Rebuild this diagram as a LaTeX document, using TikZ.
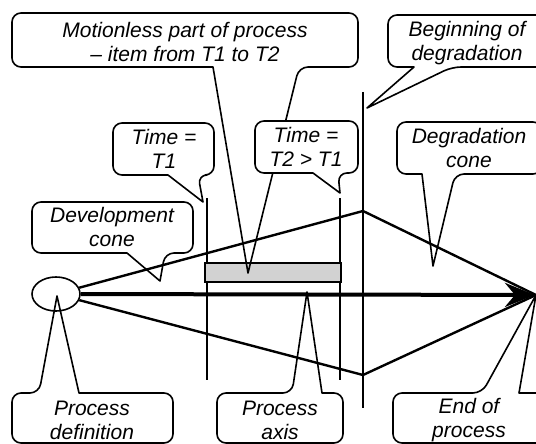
\documentclass[tikz,border=0pt]{standalone}
\usepackage{fontspec}
\setmainfont{Liberation Sans}
\usetikzlibrary{shapes.geometric,arrows.meta}
\newcommand\cobot[8][]{\draw[co,#1] (#6,#5) [rounded corners=9pt] -| (#2,#3) -| (#4,#5) -- (#7,#5) [sharp corners] -- (#8) -- cycle;}
\newcommand\cotop[7]{\draw[co] (#6,#2) [rounded corners=9pt] -| (#3,#4) -| (#1,#2) -- (#5,#2) [sharp corners] -- (#7) -- cycle;}
\begin{document}
\begin{tikzpicture}[x=1pt,y=-1pt,
  lbl/.style={font=\fontsize{21}{24}\selectfont\itshape, align=center, inner sep=0pt},
  co/.style={line width=1.6pt, line join=round},
  cone/.style={line width=2.4pt},
  vline/.style={line width=1.8pt},
  axis/.style={line width=4pt, -{Stealth[length=30pt,width=24pt,inset=10pt]}},
  bar/.style={line width=2.5pt, fill=gray!35},
  pdef/.style={draw, ellipse, line width=1.6pt, minimum width=48pt, minimum height=34pt, inner sep=0pt}
 ]
\useasboundingbox (0,0) rectangle (536,444);
\clip (0,0) rectangle (536,444);
% key points
\coordinate (up) at (363,211);
\coordinate (lo) at (363,375);
\coordinate (endp) at (536,295);
\coordinate (axend) at (535,295);
\coordinate (t1a) at (207,198); \coordinate (t1b) at (207,380);
\coordinate (t2a) at (340,198); \coordinate (t2b) at (340,380);
\coordinate (dga) at (363,92);  \coordinate (dgb) at (363,408);
% process definition ellipse
\node[pdef] (pd) at (56,294) {};
% cones
\draw[cone] (pd) -- (up) -- (endp);
\draw[cone] (pd) -- (lo) -- (endp);
% time lines
\draw[vline] (t1a) -- (t1b);
\draw[vline] (t2a) -- (t2b);
\draw[vline] (dga) -- (dgb);
% motionless bar
\draw[bar] (205,263) rectangle (341,282);
% axis
\draw[axis] (pd.east) -- (axend);
% callout tips
\coordinate (tMot) at (248,273);
\coordinate (tBeg) at (367,108);
\coordinate (tT1) at (203,202);
\coordinate (tT2) at (340,193);
\coordinate (tDeg) at (433,266);
\coordinate (tDev) at (160,281);
\coordinate (tDef) at (57,296);
\coordinate (tAx) at (307,292);
\coordinate (tEnd) at (536,295);
% callouts
\cobot{12}{13}{358}{67}{213}{299}{tMot}
\cobot{388}{15}{546}{67}{414}{452}{tBeg}
\cobot{113}{123}{214}{175}{168}{198}{tT1}
\cobot[fill=white]{255}{121}{358}{173}{313}{338}{tT2}
\cobot{397}{122}{542}{174}{422}{455}{tDeg}
\cobot{32}{202}{193}{253}{127}{165}{tDev}
\cotop{12}{393}{173}{443}{39}{79}{tDef}
\cotop{217}{393}{343}{443}{292}{322}{tAx}
\cotop{393}{393}{545}{443}{482}{519}{tEnd}
% labels
\node[lbl] (lMot) at (185,42) {Motionless part of process\\– item from T1 to T2};
\node[lbl] (lBeg) at (467,43) {Beginning of\\degradation};
\node[lbl] (lT1) at (164,149) {Time =\\T1};
\node[lbl] (lT2) at (306,147) {Time =\\T2 > T1};
\node[lbl] (lDeg) at (469,148) {Degradation\\cone};
\node[lbl] (lDev) at (112,227) {Development\\cone};
\node[lbl] (lDef) at (92,420) {Process\\definition};
\node[lbl] (lAx) at (280,420) {Process\\axis};
\node[lbl] (lEnd) at (469,420) {End of\\process};
\end{tikzpicture}
\end{document}
